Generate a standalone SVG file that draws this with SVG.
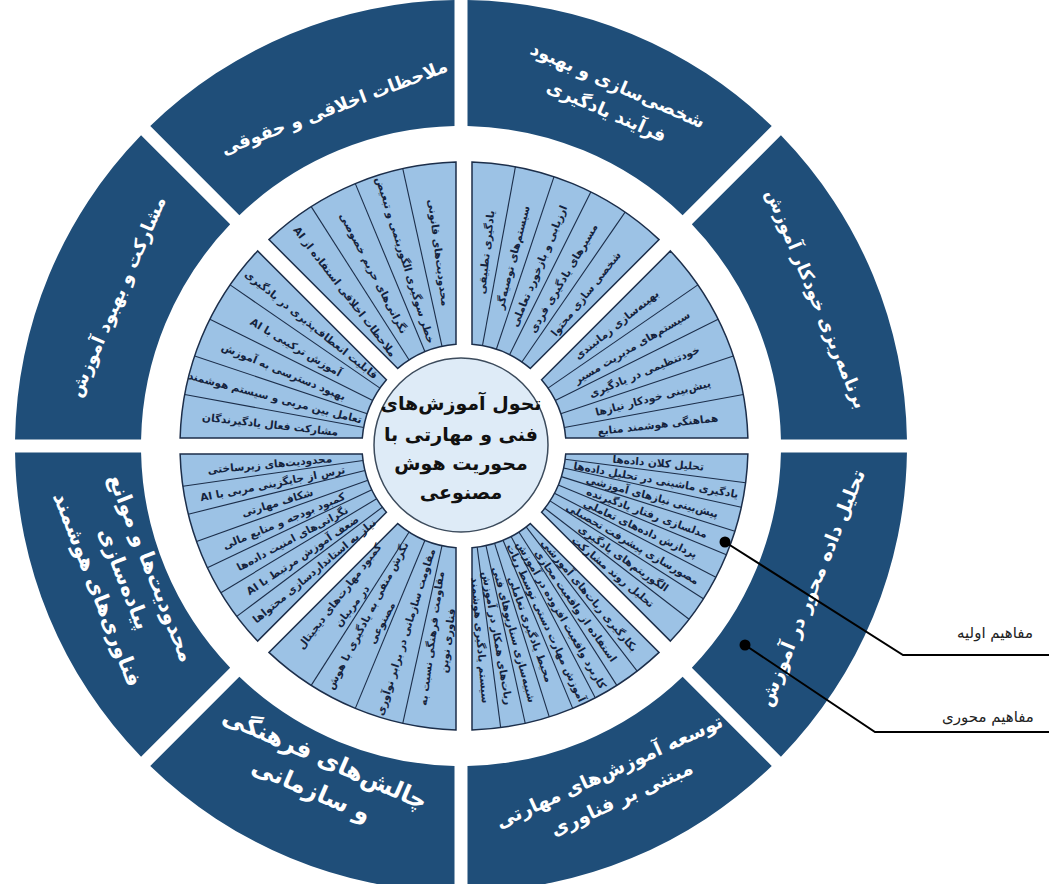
<svg xmlns="http://www.w3.org/2000/svg" width="1049" height="884" viewBox="0 0 1049 884">
<style>
.outer{fill:#1f4e79}
.inner{fill:#9cc2e5;stroke:#1c2e4a;stroke-width:1.5}
.div{stroke:#1c2e4a;stroke-width:1.1}
.ot{fill:#ffffff;font-family:"DejaVu Sans",sans-serif;font-weight:bold;text-anchor:middle;direction:rtl;dominant-baseline:central}
.it{fill:#14233d;font-family:"DejaVu Sans",sans-serif;font-weight:bold;font-size:10.5px;text-anchor:middle;direction:rtl;dominant-baseline:central}
.ct{fill:#111111;font-family:"DejaVu Sans",sans-serif;font-weight:bold;font-size:19px;text-anchor:middle;direction:rtl}
.lt{fill:#222222;font-family:"DejaVu Sans",sans-serif;font-size:15px;text-anchor:middle;direction:rtl}
.con{fill:none;stroke:#000000;stroke-width:2}
</style>
<defs>
<path id="oseg" d="M319.93,6.5 L445.95,6.5 A446,446 0 0 1 319.93,310.74 L230.82,221.63 A320,320 0 0 0 319.93,6.5 Z"/>
<path id="iseg" d="M101.69,8 L283.89,8 A284,284 0 0 1 206.40,195.08 L77.56,66.25 A102,102 0 0 0 101.69,8 Z"/>
</defs>
<rect width="1049" height="884" fill="#ffffff"/>

<!-- outer ring segments -->
<g id="seg-data" transform="translate(461,446) rotate(0)">
<use href="#oseg" class="outer"/>
<text class="ot" font-size="19" transform="rotate(22) translate(378,0) rotate(-90)">تحلیل داده محور در آموزش</text>
</g>
<g id="seg-development" transform="translate(461,446) rotate(45)">
<use href="#oseg" class="outer"/>
<text class="ot" font-size="19" transform="rotate(20.5) translate(372,0) rotate(-90)"><tspan x="0" y="-15">توسعه آموزش‌های مهارتی</tspan><tspan x="0" y="15">مبتنی بر فناوری</tspan></text>
</g>
<g id="seg-challenges" transform="translate(461,446) rotate(90)">
<use href="#oseg" class="outer"/>
<text class="ot" font-size="24" transform="rotate(23.5) translate(358,0) rotate(-90)"><tspan x="0" y="-17">چالش‌های فرهنگی</tspan><tspan x="0" y="17">و سازمانی</tspan></text>
</g>
<g id="seg-limitations" transform="translate(461,446) rotate(135)">
<use href="#oseg" class="outer"/>
<text class="ot" font-size="21" transform="rotate(23.5) translate(362,0) rotate(-90)"><tspan x="0" y="-29">محدودیت‌ها و موانع</tspan><tspan x="0" y="0">پیاده‌سازی</tspan><tspan x="0" y="29">فناوری‌های هوشمند</tspan></text>
</g>
<g id="seg-participation" transform="translate(461,446) rotate(180)">
<use href="#oseg" class="outer"/>
<text class="ot" font-size="18" transform="rotate(23.5) translate(375,0) rotate(90)">مشارکت و بهبود آموزش</text>
</g>
<g id="seg-ethics" transform="translate(461,446) rotate(225)">
<use href="#oseg" class="outer"/>
<text class="ot" font-size="18" transform="rotate(24.5) translate(362,0) rotate(90)">ملاحظات اخلاقی و حقوقی</text>
</g>
<g id="seg-personalization" transform="translate(461,446) rotate(270)">
<use href="#oseg" class="outer"/>
<text class="ot" font-size="18" transform="rotate(23.5) translate(380,0) rotate(90)"><tspan x="0" y="-14">شخصی‌سازی و بهبود</tspan><tspan x="0" y="14">فرآیند یادگیری</tspan></text>
</g>
<g id="seg-planning" transform="translate(461,446) rotate(315)">
<use href="#oseg" class="outer"/>
<text class="ot" font-size="18" transform="rotate(22.5) translate(385,0) rotate(90)">برنامه‌ریزی خودکار آموزش</text>
</g>

<!-- inner ring sectors -->
<g id="inner-data" transform="translate(464,446) rotate(0)">
<use href="#iseg" class="inner"/>
<line class="div" x1="102" x2="284" transform="rotate(7.43)"/>
<line class="div" x1="102" x2="284" transform="rotate(12.45)"/>
<line class="div" x1="102" x2="284" transform="rotate(17.48)"/>
<line class="div" x1="102" x2="284" transform="rotate(22.5)"/>
<line class="div" x1="102" x2="284" transform="rotate(27.53)"/>
<line class="div" x1="102" x2="284" transform="rotate(32.55)"/>
<line class="div" x1="102" x2="284" transform="rotate(37.58)"/>
<text class="it" transform="rotate(4.91) translate(195,0)">تحلیل کلان داده‌ها</text>
<text class="it" font-size="9.5" transform="rotate(9.94) translate(195,0)">یادگیری ماشینی در تحلیل داده‌ها</text>
<text class="it" transform="rotate(14.96) translate(195,0)">پیش‌بینی نیازهای آموزشی</text>
<text class="it" transform="rotate(19.99) translate(195,0)">مدلسازی رفتار یادگیرنده</text>
<text class="it" transform="rotate(25.01) translate(195,0)">پردازش داده‌های تعاملی</text>
<text class="it" transform="rotate(30.04) translate(195,0)">مصورسازی پیشرفت تحصیلی</text>
<text class="it" transform="rotate(35.06) translate(195,0)">الگوریتم‌های یادگیری</text>
<text class="it" transform="rotate(40.09) translate(195,0)">تحلیل روند مشارکت</text>
</g>
<g id="inner-development" transform="translate(464,446) rotate(45)">
<use href="#iseg" class="inner"/>
<line class="div" x1="102" x2="284" transform="rotate(7.43)"/>
<line class="div" x1="102" x2="284" transform="rotate(12.45)"/>
<line class="div" x1="102" x2="284" transform="rotate(17.48)"/>
<line class="div" x1="102" x2="284" transform="rotate(22.5)"/>
<line class="div" x1="102" x2="284" transform="rotate(27.53)"/>
<line class="div" x1="102" x2="284" transform="rotate(32.55)"/>
<line class="div" x1="102" x2="284" transform="rotate(37.58)"/>
<text class="it" transform="rotate(4.91) translate(195,0)">بکارگیری ربات‌های آموزشی</text>
<text class="it" transform="rotate(9.94) translate(195,0)">استفاده از واقعیت مجازی</text>
<text class="it" font-size="9.5" transform="rotate(14.96) translate(195,0)">کاربرد واقعیت افزوده در آموزش</text>
<text class="it" font-size="10" transform="rotate(19.99) translate(195,0)">آموزش مهارت دستی توسط ربات</text>
<text class="it" transform="rotate(25.01) translate(195,0)">محیط یادگیری تعاملی</text>
<text class="it" transform="rotate(30.04) translate(195,0)">شبیه‌سازی سناریوهای فنی</text>
<text class="it" transform="rotate(35.06) translate(195,0)">ربات‌های همکار در آموزش</text>
<text class="it" transform="rotate(40.09) translate(195,0)">سیستم یادگیری هوشمند</text>
</g>
<g id="inner-challenges" transform="translate(464,446) rotate(90)">
<use href="#iseg" class="inner"/>
<line class="div" x1="102" x2="284" transform="rotate(12.45)"/>
<line class="div" x1="102" x2="284" transform="rotate(22.5)"/>
<line class="div" x1="102" x2="284" transform="rotate(32.55)"/>
<text class="it" font-size="11.5" transform="rotate(7.43) translate(195,0) rotate(180)"><tspan x="0" y="-7.5">مقاومت فرهنگی نسبت به</tspan><tspan x="0" y="8.5">فناوری نوین</tspan></text>
<text class="it" font-size="11" transform="rotate(17.48) translate(195,0) rotate(180)">مقاومت سازمانی در برابر نوآوری</text>
<text class="it" font-size="11.5" transform="rotate(27.53) translate(195,0) rotate(180)"><tspan x="0" y="-7.5">نگرش منفی به یادگیری با هوش</tspan><tspan x="0" y="8.5">مصنوعی</tspan></text>
<text class="it" font-size="11.5" transform="rotate(37.58) translate(195,0) rotate(180)"><tspan x="0" y="-7.5">کمبود مهارت‌های دیجیتال</tspan><tspan x="0" y="8.5">در مربیان</tspan></text>
</g>
<g id="inner-limitations" transform="translate(464,446) rotate(135)">
<use href="#iseg" class="inner"/>
<line class="div" x1="102" x2="284" transform="rotate(8.14)"/>
<line class="div" x1="102" x2="284" transform="rotate(13.89)"/>
<line class="div" x1="102" x2="284" transform="rotate(19.63)"/>
<line class="div" x1="102" x2="284" transform="rotate(25.37)"/>
<line class="div" x1="102" x2="284" transform="rotate(31.11)"/>
<line class="div" x1="102" x2="284" transform="rotate(36.86)"/>
<text class="it" transform="rotate(5.27) translate(195,0) rotate(180)">نیاز به استانداردسازی محتواها</text>
<text class="it" transform="rotate(11.01) translate(195,0) rotate(180)">ضعف آموزش مرتبط با AI</text>
<text class="it" transform="rotate(16.76) translate(195,0) rotate(180)">نگرانی‌های امنیت داده‌ها</text>
<text class="it" transform="rotate(22.5) translate(195,0) rotate(180)">کمبود بودجه و منابع مالی</text>
<text class="it" transform="rotate(28.24) translate(195,0) rotate(180)">شکاف مهارتی</text>
<text class="it" transform="rotate(33.99) translate(195,0) rotate(180)">ترس از جایگزینی مربی با AI</text>
<text class="it" transform="rotate(39.73) translate(195,0) rotate(180)">محدودیت‌های زیرساختی</text>
</g>
<g id="inner-participation" transform="translate(464,446) rotate(180)">
<use href="#iseg" class="inner"/>
<line class="div" x1="102" x2="284" transform="rotate(10.44)"/>
<line class="div" x1="102" x2="284" transform="rotate(18.48)"/>
<line class="div" x1="102" x2="284" transform="rotate(26.52)"/>
<line class="div" x1="102" x2="284" transform="rotate(34.56)"/>
<text class="it" font-size="11" transform="rotate(6.42) translate(195,0) rotate(180)">مشارکت فعال یادگیرندگان</text>
<text class="it" font-size="11" transform="rotate(14.46) translate(195,0) rotate(180)">تعامل بین مربی و سیستم هوشمند</text>
<text class="it" font-size="11" transform="rotate(22.5) translate(195,0) rotate(180)">بهبود دسترسی به آموزش</text>
<text class="it" font-size="11" transform="rotate(30.54) translate(195,0) rotate(180)">آموزش ترکیبی با AI</text>
<text class="it" font-size="11" transform="rotate(38.58) translate(195,0) rotate(180)">قابلیت انعطاف‌پذیری در یادگیری</text>
</g>
<g id="inner-ethics" transform="translate(464,446) rotate(225)">
<use href="#iseg" class="inner"/>
<line class="div" x1="102" x2="284" transform="rotate(12.45)"/>
<line class="div" x1="102" x2="284" transform="rotate(22.5)"/>
<line class="div" x1="102" x2="284" transform="rotate(32.55)"/>
<text class="it" font-size="11" transform="rotate(7.43) translate(195,0) rotate(180)">ملاحظات اخلاقی استفاده از AI</text>
<text class="it" font-size="11" transform="rotate(17.48) translate(195,0) rotate(180)">نگرانی‌های حریم خصوصی</text>
<text class="it" font-size="11" transform="rotate(27.53) translate(195,0) rotate(180)">خطر سوگیری الگوریتمی و تبعیض</text>
<text class="it" font-size="11" transform="rotate(37.58) translate(195,0) rotate(180)">محدودیت‌های قانونی</text>
</g>
<g id="inner-personalization" transform="translate(464,446) rotate(270)">
<use href="#iseg" class="inner"/>
<line class="div" x1="102" x2="284" transform="rotate(10.44)"/>
<line class="div" x1="102" x2="284" transform="rotate(18.48)"/>
<line class="div" x1="102" x2="284" transform="rotate(26.52)"/>
<line class="div" x1="102" x2="284" transform="rotate(34.56)"/>
<text class="it" font-size="12" transform="rotate(6.42) translate(195,0)">یادگیری تطبیقی</text>
<text class="it" font-size="12" transform="rotate(14.46) translate(195,0)">سیستم‌های توصیه‌گر</text>
<text class="it" font-size="12" transform="rotate(22.5) translate(195,0)">ارزیابی و بازخورد تعاملی</text>
<text class="it" font-size="12" transform="rotate(30.54) translate(195,0)">مسیرهای یادگیری فردی</text>
<text class="it" font-size="12" transform="rotate(38.58) translate(195,0)">شخصی سازی محتوا</text>
</g>
<g id="inner-planning" transform="translate(464,446) rotate(315)">
<use href="#iseg" class="inner"/>
<line class="div" x1="102" x2="284" transform="rotate(10.44)"/>
<line class="div" x1="102" x2="284" transform="rotate(18.48)"/>
<line class="div" x1="102" x2="284" transform="rotate(26.52)"/>
<line class="div" x1="102" x2="284" transform="rotate(34.56)"/>
<text class="it" font-size="12" transform="rotate(6.42) translate(195,0)">بهینه‌سازی زمانبندی</text>
<text class="it" font-size="12" transform="rotate(14.46) translate(195,0)">سیستم‌های مدیریت مسیر</text>
<text class="it" font-size="12" transform="rotate(22.5) translate(195,0)">خودتنظیمی در یادگیری</text>
<text class="it" font-size="12" transform="rotate(30.54) translate(195,0)">پیش‌بینی خودکار نیازها</text>
<text class="it" font-size="12" transform="rotate(38.58) translate(195,0)">هماهنگی هوشمند منابع</text>
</g>

<!-- center -->
<g id="center">
<circle cx="461" cy="445" r="87" fill="#deebf7" stroke="#3c4b5c" stroke-width="1.5"/>
<text class="ct"><tspan x="461" y="410">تحول آموزش‌های</tspan><tspan x="461" y="441">فنی و مهارتی با</tspan><tspan x="461" y="470">محوریت هوش</tspan><tspan x="461" y="499">مصنوعی</tspan></text>
</g>

<!-- connectors -->
<g id="connectors">
<polyline class="con" points="725,542 903,655 1049,655"/>
<polyline class="con" points="745,645 875,732 1049,732"/>
<circle cx="725" cy="542" r="5.5" fill="#000000"/>
<circle cx="745" cy="645" r="5.5" fill="#000000"/>
</g>
<g id="legend-primary"><text class="lt" x="995" y="638">مفاهیم اولیه</text></g>
<g id="legend-core"><text class="lt" x="988" y="722">مفاهیم محوری</text></g>
</svg>
